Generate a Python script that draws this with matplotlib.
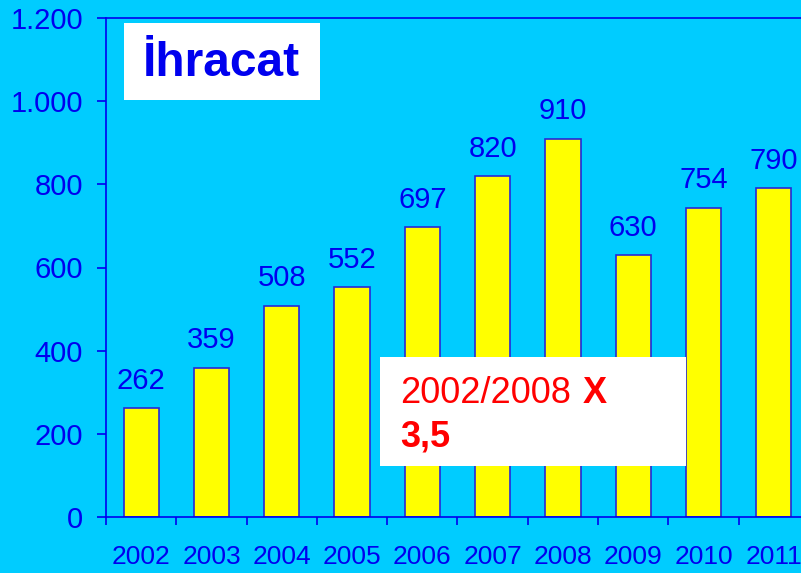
import matplotlib.pyplot as plt
from matplotlib.patches import Rectangle
from matplotlib.ticker import FuncFormatter, FixedLocator

years = ["2002", "2003", "2004", "2005", "2006", "2007", "2008", "2009", "2010", "2011"]
exports = [262, 359, 508, 552, 697, 820, 910, 630, 744, 790]
value_labels = ["262", "359", "508", "552", "697", "820", "910", "630", "754", "790"]

bg = "#00CCFF"
blue = "#0000EE"
edge = "#2828D8"
red = "#FF0000"

plt.rcParams["font.family"] = ["Liberation Sans", "DejaVu Sans"]

fig = plt.figure(figsize=(8.01, 5.73), dpi=100, facecolor=bg)
ax = fig.add_axes([106 / 801, 1 - 517 / 573, 703 / 801, 499 / 573])
ax.set_facecolor(bg)

x = list(range(len(years)))
bars = ax.bar(x, exports, width=0.5, color="#FFFF00", edgecolor=edge, linewidth=1.2)
for b, lab in zip(bars, value_labels):
    ax.annotate(lab, (b.get_x() + b.get_width() / 2, b.get_height()),
                xytext=(0, 14), textcoords="offset points",
                ha="center", va="baseline", fontsize=21, color=blue)

ax.set_xlim(-0.5, len(years) - 0.5)
ax.set_ylim(0, 1200)
ax.yaxis.set_major_locator(FixedLocator(range(0, 1201, 200)))
ax.yaxis.set_major_formatter(FuncFormatter(lambda v, p: f"{v:,.0f}".replace(",", ".")))

# ticks between categories, labels centred under bars
ax.xaxis.set_major_locator(FixedLocator([i - 0.5 for i in range(len(years) + 1)]))
ax.xaxis.set_major_formatter(FuncFormatter(lambda v, p: ""))
ax.xaxis.set_minor_locator(FixedLocator(x))
ax.set_xticklabels(years, minor=True)
ax.tick_params(axis="x", which="major", direction="out", length=6, width=1.2, color=blue)
ax.tick_params(axis="x", which="minor", length=0, pad=20, labelsize=19, labelcolor=blue)
ax.tick_params(axis="y", direction="out", length=6.5, width=1.2, color=blue,
               pad=10, labelsize=21, labelcolor=blue)

for s in ax.spines.values():
    s.set_color(blue)
    s.set_linewidth(1.2)

# title box
fig.add_artist(Rectangle((124 / 801, 1 - 100 / 573), 196 / 801, 77 / 573,
                         transform=fig.transFigure, facecolor="white", edgecolor="none"))
fig.text(221 / 801, 1 - 63 / 573, "İhracat", ha="center", va="center",
         fontsize=34.5, fontweight="bold", color=blue)

# ratio box
fig.add_artist(Rectangle((380 / 801, 1 - 466 / 573), 306 / 801, 109 / 573,
                         transform=fig.transFigure, facecolor="white", edgecolor="none"))
fig.text(400 / 801, 1 - 403 / 573, "2002/2008", ha="left", va="baseline",
         fontsize=26, color=red)
fig.text(583 / 801, 1 - 403 / 573, "X", ha="left", va="baseline",
         fontsize=26, fontweight="bold", color=red)
fig.text(400 / 801, 1 - 447 / 573, "3,5", ha="left", va="baseline",
         fontsize=26, fontweight="bold", color=red)

fig.savefig("out.png", dpi=100, facecolor=bg)
